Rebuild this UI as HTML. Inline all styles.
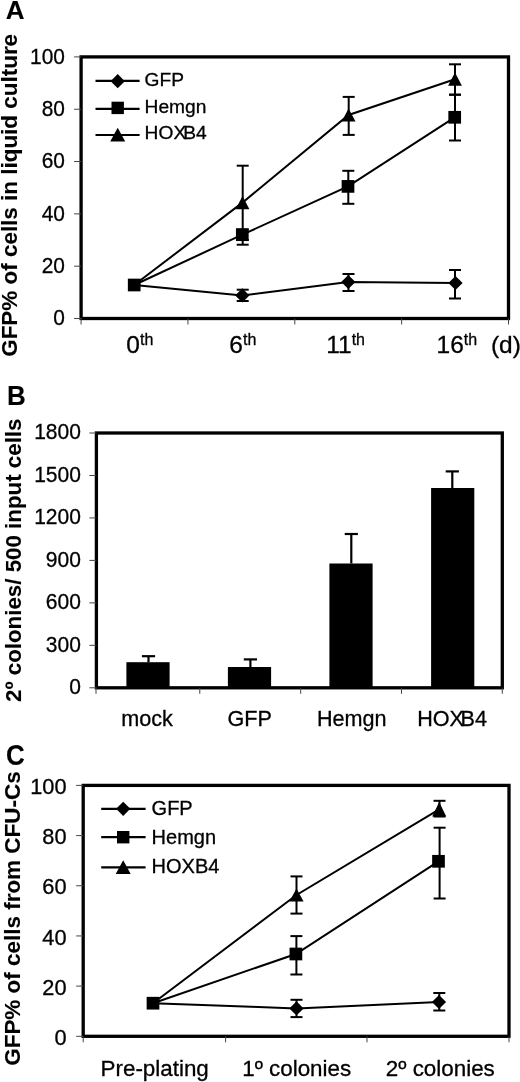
<!DOCTYPE html>
<html><head><meta charset="utf-8"><title>Figure</title>
<style>
html,body{margin:0;padding:0;background:#fff;}
body{width:520px;height:1082px;overflow:hidden;}
svg{display:block;font-family:'Liberation Sans', sans-serif;fill:#000;filter:blur(0.5px);}
text{stroke:#000;stroke-width:0.3px;}
text[font-weight=bold]{stroke-width:0.1px;}
</style></head><body>
<svg width="520" height="1082" viewBox="0 0 520 1082">
<rect width="520" height="1082" fill="#fff"/>
<text x="5.80" y="19.00" font-size="26" text-anchor="start" font-weight="bold" >A</text>
<rect x="81.1" y="56.9" width="427.4" height="261.6" fill="none" stroke="#000" stroke-width="3.3"/>
<line x1="74.10" y1="318.50" x2="81.10" y2="318.50" stroke="#444" stroke-width="1"/>
<text transform="translate(64.90,325.30) scale(0.95,1)" font-size="22" text-anchor="end" >0</text>
<line x1="74.10" y1="266.18" x2="81.10" y2="266.18" stroke="#444" stroke-width="1"/>
<text transform="translate(64.90,272.98) scale(0.95,1)" font-size="22" text-anchor="end" >20</text>
<line x1="74.10" y1="213.86" x2="81.10" y2="213.86" stroke="#444" stroke-width="1"/>
<text transform="translate(64.90,220.66) scale(0.95,1)" font-size="22" text-anchor="end" >40</text>
<line x1="74.10" y1="161.54" x2="81.10" y2="161.54" stroke="#444" stroke-width="1"/>
<text transform="translate(64.90,168.34) scale(0.95,1)" font-size="22" text-anchor="end" >60</text>
<line x1="74.10" y1="109.22" x2="81.10" y2="109.22" stroke="#444" stroke-width="1"/>
<text transform="translate(64.90,116.02) scale(0.95,1)" font-size="22" text-anchor="end" >80</text>
<line x1="74.10" y1="56.90" x2="81.10" y2="56.90" stroke="#444" stroke-width="1"/>
<text transform="translate(64.90,63.70) scale(0.95,1)" font-size="22" text-anchor="end" >100</text>
<line x1="81.10" y1="318.50" x2="81.10" y2="324.50" stroke="#444" stroke-width="1"/>
<line x1="187.95" y1="318.50" x2="187.95" y2="324.50" stroke="#444" stroke-width="1"/>
<line x1="294.80" y1="318.50" x2="294.80" y2="324.50" stroke="#444" stroke-width="1"/>
<line x1="401.65" y1="318.50" x2="401.65" y2="324.50" stroke="#444" stroke-width="1"/>
<line x1="508.50" y1="318.50" x2="508.50" y2="324.50" stroke="#444" stroke-width="1"/>
<text x="126.30" y="353" font-size="24.5" text-anchor="start">0<tspan font-size="16" dy="-8.5">th</tspan></text>
<text x="229.30" y="353" font-size="24.5" text-anchor="start">6<tspan font-size="16" dy="-8.5">th</tspan></text>
<text x="326.20" y="353" font-size="24.5" text-anchor="start">11<tspan font-size="16" dy="-8.5">th</tspan></text>
<text x="436.60" y="353" font-size="24.5" text-anchor="start">16<tspan font-size="16" dy="-8.5">th</tspan></text>
<text x="490.90" y="353.00" font-size="24.5" text-anchor="start" >(d)</text>
<text transform="translate(16.8,356.8) rotate(-90)" font-size="22.45" font-weight="bold">GFP% of cells in liquid culture</text>
<polyline points="134.20,285.00 242.30,295.40 348.30,282.00 455.50,283.00" fill="none" stroke="#000" stroke-width="2"/>
<polyline points="134.20,285.00 242.30,234.70 348.00,186.40 454.70,117.30" fill="none" stroke="#000" stroke-width="2"/>
<polyline points="134.20,285.00 242.50,202.60 348.60,115.00 455.00,79.20" fill="none" stroke="#000" stroke-width="2"/>
<line x1="242.70" y1="165.70" x2="242.70" y2="240.00" stroke="#000" stroke-width="2" />
<line x1="236.70" y1="165.70" x2="248.70" y2="165.70" stroke="#000" stroke-width="2" />
<line x1="236.70" y1="240.00" x2="248.70" y2="240.00" stroke="#000" stroke-width="2" />
<line x1="242.70" y1="229.50" x2="242.70" y2="244.70" stroke="#000" stroke-width="2" />
<line x1="236.70" y1="229.50" x2="248.70" y2="229.50" stroke="#000" stroke-width="2" />
<line x1="236.70" y1="244.70" x2="248.70" y2="244.70" stroke="#000" stroke-width="2" />
<line x1="242.70" y1="289.70" x2="242.70" y2="301.00" stroke="#000" stroke-width="2" />
<line x1="236.70" y1="289.70" x2="248.70" y2="289.70" stroke="#000" stroke-width="2" />
<line x1="236.70" y1="301.00" x2="248.70" y2="301.00" stroke="#000" stroke-width="2" />
<line x1="348.70" y1="96.90" x2="348.70" y2="134.90" stroke="#000" stroke-width="2" />
<line x1="342.70" y1="96.90" x2="354.70" y2="96.90" stroke="#000" stroke-width="2" />
<line x1="342.70" y1="134.90" x2="354.70" y2="134.90" stroke="#000" stroke-width="2" />
<line x1="348.30" y1="170.80" x2="348.30" y2="203.80" stroke="#000" stroke-width="2" />
<line x1="342.30" y1="170.80" x2="354.30" y2="170.80" stroke="#000" stroke-width="2" />
<line x1="342.30" y1="203.80" x2="354.30" y2="203.80" stroke="#000" stroke-width="2" />
<line x1="348.50" y1="274.00" x2="348.50" y2="291.00" stroke="#000" stroke-width="2" />
<line x1="342.50" y1="274.00" x2="354.50" y2="274.00" stroke="#000" stroke-width="2" />
<line x1="342.50" y1="291.00" x2="354.50" y2="291.00" stroke="#000" stroke-width="2" />
<line x1="455.00" y1="64.30" x2="455.00" y2="94.70" stroke="#000" stroke-width="2" />
<line x1="449.00" y1="64.30" x2="461.00" y2="64.30" stroke="#000" stroke-width="2" />
<line x1="449.00" y1="94.70" x2="461.00" y2="94.70" stroke="#000" stroke-width="2" />
<line x1="455.00" y1="94.70" x2="455.00" y2="140.50" stroke="#000" stroke-width="2" />
<line x1="449.00" y1="94.70" x2="461.00" y2="94.70" stroke="#000" stroke-width="2" />
<line x1="449.00" y1="140.50" x2="461.00" y2="140.50" stroke="#000" stroke-width="2" />
<line x1="455.00" y1="270.00" x2="455.00" y2="298.50" stroke="#000" stroke-width="2" />
<line x1="449.00" y1="270.00" x2="461.00" y2="270.00" stroke="#000" stroke-width="2" />
<line x1="449.00" y1="298.50" x2="461.00" y2="298.50" stroke="#000" stroke-width="2" />
<polygon points="235.20,295.40 242.30,288.30 249.40,295.40 242.30,302.50" fill="#000"/>
<polygon points="341.20,282.00 348.30,274.90 355.40,282.00 348.30,289.10" fill="#000"/>
<polygon points="448.40,283.00 455.50,275.90 462.60,283.00 455.50,290.10" fill="#000"/>
<rect x="127.85" y="278.65" width="12.7" height="12.7" fill="#000"/>
<rect x="235.95" y="228.35" width="12.7" height="12.7" fill="#000"/>
<rect x="341.65" y="180.05" width="12.7" height="12.7" fill="#000"/>
<rect x="448.35" y="110.95" width="12.7" height="12.7" fill="#000"/>
<polygon points="235.60,209.20 242.50,196.00 249.40,209.20" fill="#000"/>
<polygon points="341.70,121.60 348.60,108.40 355.50,121.60" fill="#000"/>
<polygon points="448.10,85.80 455.00,72.60 461.90,85.80" fill="#000"/>
<line x1="95.50" y1="80.90" x2="139.60" y2="80.90" stroke="#000" stroke-width="2.2" />
<polygon points="110.60,81.20 117.70,74.10 124.80,81.20 117.70,88.30" fill="#000"/>
<text x="144.60" y="86.10" font-size="19.2" text-anchor="start" >GFP</text>
<line x1="95.50" y1="108.80" x2="139.60" y2="108.80" stroke="#000" stroke-width="2.2" />
<rect x="111.50" y="101.70" width="12.4" height="12.4" fill="#000"/>
<text x="144.60" y="113.10" font-size="19.2" text-anchor="start" >Hemgn</text>
<line x1="95.50" y1="135.00" x2="139.60" y2="135.00" stroke="#000" stroke-width="2.2" />
<polygon points="110.20,141.60 117.70,127.80 125.20,141.60" fill="#000"/>
<text x="144.60" y="138.80" font-size="19.2" text-anchor="start" >HOX<tspan dx="-3">B4</tspan></text>
<text transform="translate(6.9,405.3) scale(1,1.05)" font-size="26" font-weight="bold">B</text>
<rect x="96.4" y="433" width="405.9" height="254.79999999999995" fill="none" stroke="#000" stroke-width="3.3"/>
<line x1="89.40" y1="687.80" x2="96.40" y2="687.80" stroke="#444" stroke-width="1"/>
<text transform="translate(80.90,694.20) scale(0.955,1)" font-size="22" text-anchor="end" >0</text>
<line x1="89.40" y1="645.33" x2="96.40" y2="645.33" stroke="#444" stroke-width="1"/>
<text transform="translate(80.90,651.73) scale(0.955,1)" font-size="22" text-anchor="end" >300</text>
<line x1="89.40" y1="602.87" x2="96.40" y2="602.87" stroke="#444" stroke-width="1"/>
<text transform="translate(80.90,609.27) scale(0.955,1)" font-size="22" text-anchor="end" >600</text>
<line x1="89.40" y1="560.40" x2="96.40" y2="560.40" stroke="#444" stroke-width="1"/>
<text transform="translate(80.90,566.80) scale(0.955,1)" font-size="22" text-anchor="end" >900</text>
<line x1="89.40" y1="517.93" x2="96.40" y2="517.93" stroke="#444" stroke-width="1"/>
<text transform="translate(80.90,524.33) scale(0.955,1)" font-size="22" text-anchor="end" >1200</text>
<line x1="89.40" y1="475.47" x2="96.40" y2="475.47" stroke="#444" stroke-width="1"/>
<text transform="translate(80.90,481.87) scale(0.955,1)" font-size="22" text-anchor="end" >1500</text>
<line x1="89.40" y1="433.00" x2="96.40" y2="433.00" stroke="#444" stroke-width="1"/>
<text transform="translate(80.90,439.40) scale(0.955,1)" font-size="22" text-anchor="end" >1800</text>
<line x1="96.00" y1="687.80" x2="96.00" y2="693.80" stroke="#444" stroke-width="1"/>
<line x1="199.80" y1="687.80" x2="199.80" y2="693.80" stroke="#444" stroke-width="1"/>
<line x1="300.70" y1="687.80" x2="300.70" y2="693.80" stroke="#444" stroke-width="1"/>
<line x1="401.50" y1="687.80" x2="401.50" y2="693.80" stroke="#444" stroke-width="1"/>
<line x1="502.30" y1="687.80" x2="502.30" y2="693.80" stroke="#444" stroke-width="1"/>
<rect x="126.40" y="662.2" width="43.2" height="25.59999999999991" fill="#000"/>
<line x1="148.50" y1="656.20" x2="148.50" y2="662.20" stroke="#000" stroke-width="2.2" />
<line x1="141.90" y1="656.20" x2="155.10" y2="656.20" stroke="#000" stroke-width="2.2" />
<rect x="227.90" y="667" width="43.2" height="20.799999999999955" fill="#000"/>
<line x1="250.40" y1="659.40" x2="250.40" y2="667.00" stroke="#000" stroke-width="2.2" />
<line x1="243.80" y1="659.40" x2="257.00" y2="659.40" stroke="#000" stroke-width="2.2" />
<rect x="329.40" y="563.5" width="43.2" height="124.29999999999995" fill="#000"/>
<line x1="351.30" y1="534.00" x2="351.30" y2="563.50" stroke="#000" stroke-width="2.2" />
<line x1="344.70" y1="534.00" x2="357.90" y2="534.00" stroke="#000" stroke-width="2.2" />
<rect x="431.10" y="488" width="43.2" height="199.79999999999995" fill="#000"/>
<line x1="452.30" y1="471.40" x2="452.30" y2="488.00" stroke="#000" stroke-width="2.2" />
<line x1="445.70" y1="471.40" x2="458.90" y2="471.40" stroke="#000" stroke-width="2.2" />
<text x="147.00" y="725.60" font-size="21.6" text-anchor="middle" >mock</text>
<text x="249.60" y="725.60" font-size="21.6" text-anchor="middle" >GFP</text>
<text x="351.80" y="725.60" font-size="21.6" text-anchor="middle" >Hemgn</text>
<text x="417.2" y="725.6" font-size="21.6">HOX<tspan dx="-3.5">B4</tspan></text>
<text transform="translate(21.2,702) rotate(-90)" font-size="22.32" font-weight="bold">2º colonies/ 500 input cells</text>
<text transform="translate(5.9,765.2) scale(1,1.12)" font-size="26" font-weight="bold">C</text>
<rect x="83.2" y="785.4" width="425.8" height="250.89999999999998" fill="none" stroke="#000" stroke-width="3.3"/>
<line x1="76.20" y1="1036.30" x2="83.20" y2="1036.30" stroke="#444" stroke-width="1"/>
<text transform="translate(66.50,1044.90) scale(0.99,1)" font-size="22" text-anchor="end" >0</text>
<line x1="76.20" y1="986.12" x2="83.20" y2="986.12" stroke="#444" stroke-width="1"/>
<text transform="translate(66.50,994.72) scale(0.99,1)" font-size="22" text-anchor="end" >20</text>
<line x1="76.20" y1="935.94" x2="83.20" y2="935.94" stroke="#444" stroke-width="1"/>
<text transform="translate(66.50,944.54) scale(0.99,1)" font-size="22" text-anchor="end" >40</text>
<line x1="76.20" y1="885.76" x2="83.20" y2="885.76" stroke="#444" stroke-width="1"/>
<text transform="translate(66.50,894.36) scale(0.99,1)" font-size="22" text-anchor="end" >60</text>
<line x1="76.20" y1="835.58" x2="83.20" y2="835.58" stroke="#444" stroke-width="1"/>
<text transform="translate(66.50,844.18) scale(0.99,1)" font-size="22" text-anchor="end" >80</text>
<line x1="76.20" y1="785.40" x2="83.20" y2="785.40" stroke="#444" stroke-width="1"/>
<text transform="translate(66.50,794.00) scale(0.99,1)" font-size="22" text-anchor="end" >100</text>
<line x1="83.20" y1="1036.30" x2="83.20" y2="1042.30" stroke="#444" stroke-width="1"/>
<line x1="225.60" y1="1036.30" x2="225.60" y2="1042.30" stroke="#444" stroke-width="1"/>
<line x1="367.00" y1="1036.30" x2="367.00" y2="1042.30" stroke="#444" stroke-width="1"/>
<line x1="509.00" y1="1036.30" x2="509.00" y2="1042.30" stroke="#444" stroke-width="1"/>
<text x="154.70" y="1076.30" font-size="22.4" text-anchor="middle" >Pre-plating</text>
<text x="296.70" y="1076.30" font-size="22.4" text-anchor="middle" >1º colonies</text>
<text x="440.30" y="1076.30" font-size="22.4" text-anchor="middle" >2º colonies</text>
<text transform="translate(20.3,1065.8) rotate(-90)" font-size="22.46" font-weight="bold">GFP% of cells from CFU-Cs</text>
<polyline points="153.00,1003.20 296.50,1008.40 439.00,1002.00" fill="none" stroke="#000" stroke-width="2"/>
<polyline points="153.00,1003.20 295.90,954.00 438.50,861.30" fill="none" stroke="#000" stroke-width="2"/>
<polyline points="153.00,1003.20 296.50,895.00 439.20,809.30" fill="none" stroke="#000" stroke-width="2"/>
<line x1="296.50" y1="999.80" x2="296.50" y2="1017.10" stroke="#000" stroke-width="2" />
<line x1="290.50" y1="999.80" x2="302.50" y2="999.80" stroke="#000" stroke-width="2" />
<line x1="290.50" y1="1017.10" x2="302.50" y2="1017.10" stroke="#000" stroke-width="2" />
<line x1="296.40" y1="936.10" x2="296.40" y2="974.50" stroke="#000" stroke-width="2" />
<line x1="290.40" y1="936.10" x2="302.40" y2="936.10" stroke="#000" stroke-width="2" />
<line x1="290.40" y1="974.50" x2="302.40" y2="974.50" stroke="#000" stroke-width="2" />
<line x1="296.50" y1="876.40" x2="296.50" y2="913.60" stroke="#000" stroke-width="2" />
<line x1="290.50" y1="876.40" x2="302.50" y2="876.40" stroke="#000" stroke-width="2" />
<line x1="290.50" y1="913.60" x2="302.50" y2="913.60" stroke="#000" stroke-width="2" />
<line x1="439.30" y1="993.00" x2="439.30" y2="1010.50" stroke="#000" stroke-width="2" />
<line x1="433.30" y1="993.00" x2="445.30" y2="993.00" stroke="#000" stroke-width="2" />
<line x1="433.30" y1="1010.50" x2="445.30" y2="1010.50" stroke="#000" stroke-width="2" />
<line x1="439.60" y1="827.70" x2="439.60" y2="898.50" stroke="#000" stroke-width="2" />
<line x1="433.60" y1="827.70" x2="445.60" y2="827.70" stroke="#000" stroke-width="2" />
<line x1="433.60" y1="898.50" x2="445.60" y2="898.50" stroke="#000" stroke-width="2" />
<line x1="439.50" y1="800.80" x2="439.50" y2="816.50" stroke="#000" stroke-width="2" />
<line x1="433.50" y1="800.80" x2="445.50" y2="800.80" stroke="#000" stroke-width="2" />
<line x1="433.50" y1="816.50" x2="445.50" y2="816.50" stroke="#000" stroke-width="2" />
<polygon points="289.40,1008.40 296.50,1001.30 303.60,1008.40 296.50,1015.50" fill="#000"/>
<polygon points="431.90,1002.00 439.00,994.90 446.10,1002.00 439.00,1009.10" fill="#000"/>
<rect x="146.65" y="996.85" width="12.7" height="12.7" fill="#000"/>
<rect x="289.55" y="947.65" width="12.7" height="12.7" fill="#000"/>
<rect x="432.15" y="854.95" width="12.7" height="12.7" fill="#000"/>
<polygon points="289.40,901.60 296.50,888.40 303.60,901.60" fill="#000"/>
<polygon points="432.20,816.55 439.20,802.05 446.20,816.55" fill="#000"/>
<line x1="101.20" y1="808.80" x2="145.60" y2="808.80" stroke="#000" stroke-width="2.2" />
<polygon points="116.10,808.80 123.20,801.70 130.30,808.80 123.20,815.90" fill="#000"/>
<text x="151.60" y="814.90" font-size="20" text-anchor="start" >GFP</text>
<line x1="101.20" y1="837.20" x2="145.60" y2="837.20" stroke="#000" stroke-width="2.2" />
<rect x="117.00" y="831.00" width="12.4" height="12.4" fill="#000"/>
<text x="151.60" y="844.00" font-size="20" text-anchor="start" >Hemgn</text>
<line x1="101.20" y1="867.40" x2="145.60" y2="867.40" stroke="#000" stroke-width="2.2" />
<polygon points="115.70,874.10 123.20,860.30 130.70,874.10" fill="#000"/>
<text x="151.60" y="873.30" font-size="20" text-anchor="start" >HOXB4</text>
</svg>
</body></html>
